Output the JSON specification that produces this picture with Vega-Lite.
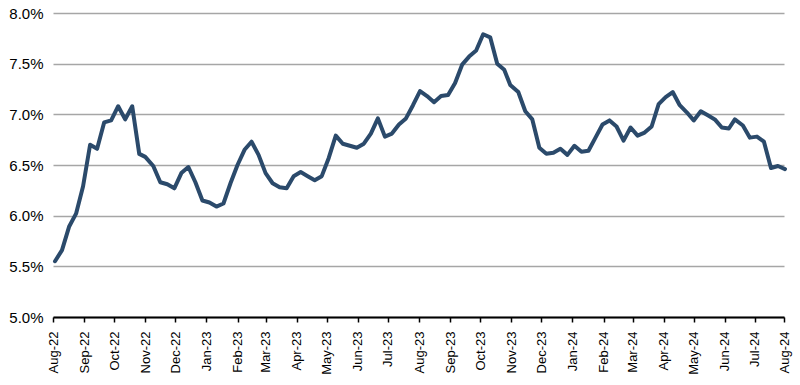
{
  "$schema": "https://vega.github.io/schema/vega-lite/v6.json",
  "width": 731,
  "height": 304,
  "autosize": {"type": "none"},
  "padding": {"left": 53, "top": 13, "right": 16, "bottom": 68},
  "background": "white",
  "config": {
    "view": {"stroke": null},
    "font": "Liberation Sans"
  },
  "data": {
    "values": [
      {"date": "2022-08-25T00:00:00", "rate": 5.55},
      {"date": "2022-09-01T00:00:00", "rate": 5.66},
      {"date": "2022-09-08T00:00:00", "rate": 5.89},
      {"date": "2022-09-15T00:00:00", "rate": 6.02},
      {"date": "2022-09-22T00:00:00", "rate": 6.29},
      {"date": "2022-09-29T00:00:00", "rate": 6.70},
      {"date": "2022-10-06T00:00:00", "rate": 6.66},
      {"date": "2022-10-13T00:00:00", "rate": 6.92},
      {"date": "2022-10-20T00:00:00", "rate": 6.94},
      {"date": "2022-10-27T00:00:00", "rate": 7.08},
      {"date": "2022-11-03T00:00:00", "rate": 6.95},
      {"date": "2022-11-10T00:00:00", "rate": 7.08},
      {"date": "2022-11-17T00:00:00", "rate": 6.61},
      {"date": "2022-11-23T00:00:00", "rate": 6.58},
      {"date": "2022-12-01T00:00:00", "rate": 6.49},
      {"date": "2022-12-08T00:00:00", "rate": 6.33},
      {"date": "2022-12-15T00:00:00", "rate": 6.31},
      {"date": "2022-12-22T00:00:00", "rate": 6.27},
      {"date": "2022-12-29T00:00:00", "rate": 6.42},
      {"date": "2023-01-05T00:00:00", "rate": 6.48},
      {"date": "2023-01-12T00:00:00", "rate": 6.33},
      {"date": "2023-01-19T00:00:00", "rate": 6.15},
      {"date": "2023-01-26T00:00:00", "rate": 6.13},
      {"date": "2023-02-02T00:00:00", "rate": 6.09},
      {"date": "2023-02-09T00:00:00", "rate": 6.12},
      {"date": "2023-02-16T00:00:00", "rate": 6.32},
      {"date": "2023-02-23T00:00:00", "rate": 6.50},
      {"date": "2023-03-02T00:00:00", "rate": 6.65},
      {"date": "2023-03-09T00:00:00", "rate": 6.73},
      {"date": "2023-03-16T00:00:00", "rate": 6.60},
      {"date": "2023-03-23T00:00:00", "rate": 6.42},
      {"date": "2023-03-30T00:00:00", "rate": 6.32},
      {"date": "2023-04-06T00:00:00", "rate": 6.28},
      {"date": "2023-04-13T00:00:00", "rate": 6.27},
      {"date": "2023-04-20T00:00:00", "rate": 6.39},
      {"date": "2023-04-27T00:00:00", "rate": 6.43},
      {"date": "2023-05-04T00:00:00", "rate": 6.39},
      {"date": "2023-05-11T00:00:00", "rate": 6.35},
      {"date": "2023-05-18T00:00:00", "rate": 6.39},
      {"date": "2023-05-25T00:00:00", "rate": 6.57},
      {"date": "2023-06-01T00:00:00", "rate": 6.79},
      {"date": "2023-06-08T00:00:00", "rate": 6.71},
      {"date": "2023-06-15T00:00:00", "rate": 6.69},
      {"date": "2023-06-22T00:00:00", "rate": 6.67},
      {"date": "2023-06-29T00:00:00", "rate": 6.71},
      {"date": "2023-07-06T00:00:00", "rate": 6.81},
      {"date": "2023-07-13T00:00:00", "rate": 6.96},
      {"date": "2023-07-20T00:00:00", "rate": 6.78},
      {"date": "2023-07-27T00:00:00", "rate": 6.81},
      {"date": "2023-08-03T00:00:00", "rate": 6.90},
      {"date": "2023-08-10T00:00:00", "rate": 6.96},
      {"date": "2023-08-17T00:00:00", "rate": 7.09},
      {"date": "2023-08-24T00:00:00", "rate": 7.23},
      {"date": "2023-08-31T00:00:00", "rate": 7.18},
      {"date": "2023-09-07T00:00:00", "rate": 7.12},
      {"date": "2023-09-14T00:00:00", "rate": 7.18},
      {"date": "2023-09-21T00:00:00", "rate": 7.19},
      {"date": "2023-09-28T00:00:00", "rate": 7.31},
      {"date": "2023-10-05T00:00:00", "rate": 7.49},
      {"date": "2023-10-12T00:00:00", "rate": 7.57},
      {"date": "2023-10-19T00:00:00", "rate": 7.63},
      {"date": "2023-10-26T00:00:00", "rate": 7.79},
      {"date": "2023-11-02T00:00:00", "rate": 7.76},
      {"date": "2023-11-09T00:00:00", "rate": 7.50},
      {"date": "2023-11-16T00:00:00", "rate": 7.44},
      {"date": "2023-11-22T00:00:00", "rate": 7.29},
      {"date": "2023-11-30T00:00:00", "rate": 7.22},
      {"date": "2023-12-07T00:00:00", "rate": 7.03},
      {"date": "2023-12-14T00:00:00", "rate": 6.95},
      {"date": "2023-12-21T00:00:00", "rate": 6.67},
      {"date": "2023-12-28T00:00:00", "rate": 6.61},
      {"date": "2024-01-04T00:00:00", "rate": 6.62},
      {"date": "2024-01-11T00:00:00", "rate": 6.66},
      {"date": "2024-01-18T00:00:00", "rate": 6.60},
      {"date": "2024-01-25T00:00:00", "rate": 6.69},
      {"date": "2024-02-01T00:00:00", "rate": 6.63},
      {"date": "2024-02-08T00:00:00", "rate": 6.64},
      {"date": "2024-02-15T00:00:00", "rate": 6.77},
      {"date": "2024-02-22T00:00:00", "rate": 6.90},
      {"date": "2024-02-29T00:00:00", "rate": 6.94},
      {"date": "2024-03-07T00:00:00", "rate": 6.88},
      {"date": "2024-03-14T00:00:00", "rate": 6.74},
      {"date": "2024-03-21T00:00:00", "rate": 6.87},
      {"date": "2024-03-28T00:00:00", "rate": 6.79},
      {"date": "2024-04-04T00:00:00", "rate": 6.82},
      {"date": "2024-04-11T00:00:00", "rate": 6.88},
      {"date": "2024-04-18T00:00:00", "rate": 7.10},
      {"date": "2024-04-25T00:00:00", "rate": 7.17},
      {"date": "2024-05-02T00:00:00", "rate": 7.22},
      {"date": "2024-05-09T00:00:00", "rate": 7.09},
      {"date": "2024-05-16T00:00:00", "rate": 7.02},
      {"date": "2024-05-23T00:00:00", "rate": 6.94},
      {"date": "2024-05-30T00:00:00", "rate": 7.03},
      {"date": "2024-06-06T00:00:00", "rate": 6.99},
      {"date": "2024-06-13T00:00:00", "rate": 6.95},
      {"date": "2024-06-20T00:00:00", "rate": 6.87},
      {"date": "2024-06-27T00:00:00", "rate": 6.86},
      {"date": "2024-07-03T00:00:00", "rate": 6.95},
      {"date": "2024-07-11T00:00:00", "rate": 6.89},
      {"date": "2024-07-18T00:00:00", "rate": 6.77},
      {"date": "2024-07-25T00:00:00", "rate": 6.78},
      {"date": "2024-08-01T00:00:00", "rate": 6.73},
      {"date": "2024-08-08T00:00:00", "rate": 6.47},
      {"date": "2024-08-15T00:00:00", "rate": 6.49},
      {"date": "2024-08-22T00:00:00", "rate": 6.46}
    ]
  },
  "mark": {"type": "line", "color": "#2b4a6b", "strokeWidth": 4, "strokeJoin": "round", "strokeCap": "round", "clip": false},
  "encoding": {
    "x": {
      "field": "date",
      "type": "temporal",
      "title": null,
      "scale": {
        "domain": [
          {"year": 2022, "month": 8, "date": 23},
          {"year": 2024, "month": 8, "date": 21}
        ]
      },
      "axis": {
        "values": [
          {"year": 2022, "month": 8, "date": 23},
          {"year": 2022, "month": 9, "date": 23},
          {"year": 2022, "month": 10, "date": 23},
          {"year": 2022, "month": 11, "date": 23},
          {"year": 2022, "month": 12, "date": 23},
          {"year": 2023, "month": 1, "date": 23},
          {"year": 2023, "month": 2, "date": 23},
          {"year": 2023, "month": 3, "date": 23},
          {"year": 2023, "month": 4, "date": 23},
          {"year": 2023, "month": 5, "date": 23},
          {"year": 2023, "month": 6, "date": 23},
          {"year": 2023, "month": 7, "date": 23},
          {"year": 2023, "month": 8, "date": 23},
          {"year": 2023, "month": 9, "date": 23},
          {"year": 2023, "month": 10, "date": 23},
          {"year": 2023, "month": 11, "date": 23},
          {"year": 2023, "month": 12, "date": 23},
          {"year": 2024, "month": 1, "date": 23},
          {"year": 2024, "month": 2, "date": 23},
          {"year": 2024, "month": 3, "date": 23},
          {"year": 2024, "month": 4, "date": 23},
          {"year": 2024, "month": 5, "date": 23},
          {"year": 2024, "month": 6, "date": 23},
          {"year": 2024, "month": 7, "date": 23},
          {"year": 2024, "month": 8, "date": 21}
        ],
        "format": "%b-%y",
        "labelAngle": -90,
        "labelFontSize": 13,
        "labelColor": "#000000",
        "labelPadding": 9,
        "labelFlush": false,
        "labelOverlap": false,
        "labelBound": false,
        "grid": false,
        "domainColor": "#000000",
        "domainWidth": 2,
        "tickColor": "#000000",
        "tickWidth": 1.5,
        "tickSize": 5
      }
    },
    "y": {
      "field": "rate",
      "type": "quantitative",
      "title": null,
      "scale": {"domain": [5, 8], "nice": false, "zero": false},
      "axis": {
        "values": [5, 5.5, 6, 6.5, 7, 7.5, 8],
        "labelExpr": "format(datum.value, '.1f') + '%'",
        "labelFontSize": 15,
        "labelColor": "#000000",
        "labelPadding": 10,
        "domain": false,
        "ticks": false,
        "gridColor": "#a6a6a6",
        "gridWidth": 1.5
      }
    }
  }
}
